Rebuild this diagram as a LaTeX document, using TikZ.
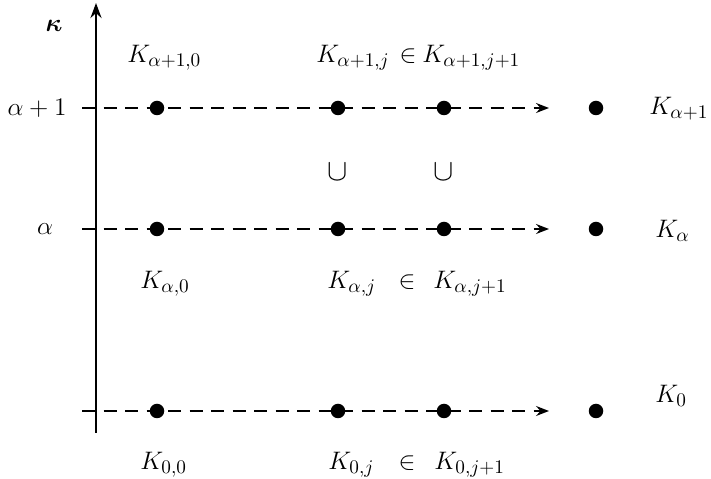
\documentclass[tikz,border=0pt]{standalone}
\usepackage{amsmath}
\usepackage{amssymb}
\usetikzlibrary{positioning, arrows.meta}
\tikzset{point/.style={circle, fill, minimum size=2.9mm, inner sep=0pt},
         level/.style={line width=1pt, dash pattern=on 2.6mm off 1.7mm, -{Stealth[length=2.6mm,width=2mm,inset=0.9mm]}},
         lbl/.style={anchor=base west, inner sep=0pt, font=\fontsize{15}{18}\selectfont},
         txt/.style={font=\fontsize{15}{18}\selectfont},
         axis/.style={line width=1.6pt, -{Stealth[length=3mm,width=2.2mm,inset=1mm]}},
        }

\begin{document}
\begin{tikzpicture}
        \useasboundingbox (0,0) rectangle (14.22,9.58);

        % axis
        \coordinate (a0) at (1.92,0.92);
        \coordinate (a1) at (1.92,9.52);
        \draw[axis](a0)--(a1);
        \node[txt](kappa)at(1.08,9.06){$\boldsymbol{\kappa}$};
        \node[txt](la1)at(0.74,7.42){$\alpha+1$};
        \node[txt](la)at(0.9,5.0){$\alpha$};

        % dots
        \node[point](p10)at(3.14,7.42){};
        \node[point](p1j)at(6.76,7.42){};
        \node[point](p1k)at(8.88,7.42){};
        \node[point](p1)at(11.92,7.42){};
        \node[point](pa0)at(3.14,5.0){};
        \node[point](paj)at(6.76,5.0){};
        \node[point](pak)at(8.88,5.0){};
        \node[point](pa)at(11.92,5.0){};
        \node[point](p00)at(3.14,1.36){};
        \node[point](p0j)at(6.76,1.36){};
        \node[point](p0k)at(8.88,1.36){};
        \node[point](p0)at(11.92,1.36){};

        % levels
        \coordinate (s1) at (1.64,7.42);
        \coordinate (e1) at (10.98,7.42);
        \coordinate (sa) at (1.64,5.0);
        \coordinate (ea) at (10.98,5.0);
        \coordinate (s0) at (1.64,1.36);
        \coordinate (e0) at (10.98,1.36);
        \draw[level](s1)--(e1);
        \draw[level](sa)--(ea);
        \draw[level](s0)--(e0);

        % labels
        \node[lbl](K10)at(2.54,8.32){$K_{\alpha+1,0}$};
        \node[lbl, anchor=base east](K1j)at(7.8,8.32){$K_{\alpha+1,j}$};
        \node[lbl, anchor=base](in1)at(8.16,8.32){$\in$};
        \node[lbl](K1k)at(8.44,8.32){$K_{\alpha+1,j+1}$};
        \node[lbl](K1)at(12.98,7.28){$K_{\alpha+1}$};

        \node[txt, font=\fontsize{17}{20}\selectfont](c1)at(6.76,6.14){$\cup$};
        \node[txt, font=\fontsize{17}{20}\selectfont](c2)at(8.88,6.14){$\cup$};

        \node[lbl](Ka0)at(2.8,3.8){$K_{\alpha,0}$};
        \node[lbl](Kaj)at(6.54,3.8){$K_{\alpha,j}$};
        \node[lbl, anchor=base](ina)at(8.14,3.8){$\in$};
        \node[lbl](Kak)at(8.66,3.8){$K_{\alpha,j+1}$};
        \node[lbl](Ka)at(13.1,4.82){$K_{\alpha}$};

        \node[lbl](K00)at(2.8,0.18){$K_{0,0}$};
        \node[lbl](K0j)at(6.56,0.18){$K_{0,j}$};
        \node[lbl, anchor=base](in0)at(8.14,0.18){$\in$};
        \node[lbl](K0k)at(8.68,0.18){$K_{0,j+1}$};
        \node[lbl](K0)at(13.1,1.52){$K_0$};
    \end{tikzpicture}
\end{document}
